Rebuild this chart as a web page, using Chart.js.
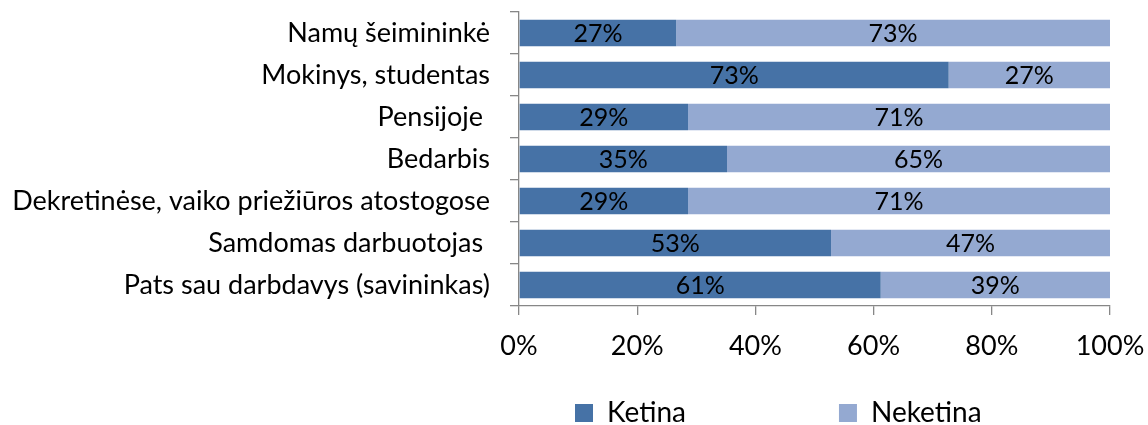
<!DOCTYPE html>
<html>
<head>
<meta charset="utf-8">
<script src="https://cdn.jsdelivr.net/npm/chart.js@4/dist/chart.umd.min.js"></script>
<style>
  html, body { margin: 0; padding: 0; background: #ffffff; }
  canvas { display: block; }
</style>
</head>
<body>
<canvas id="c" width="1148" height="425"></canvas>
<script>
const categories = [
  "Namų šeimininkė",
  "Mokinys, studentas",
  "Pensijoje ",
  "Bedarbis",
  "Dekretinėse, vaiko priežiūros atostogose",
  "Samdomas darbuotojas ",
  "Pats sau darbdavys (savininkas)"
];
const ketina   = [26.6, 72.7, 28.6, 35.2, 28.6, 52.8, 61.2];
const neketina = [73.4, 27.3, 71.4, 64.8, 71.4, 47.2, 38.8];
const seriesNames = ["Ketina", "Neketina"];
const xTicks = [0, 20, 40, 60, 80, 100];

const FONT = "Lato";
const AXIS_COLOR = "#878787";

const valueLabels = {
  id: "valueLabels",
  afterDatasetsDraw(chart) {
    const ctx = chart.ctx;
    ctx.save();
    ctx.font = "25px " + FONT;
    ctx.fillStyle = "#000000";
    ctx.textAlign = "center";
    ctx.textBaseline = "middle";
    chart.data.datasets.forEach((ds, di) => {
      const meta = chart.getDatasetMeta(di);
      meta.data.forEach((bar, i) => {
        const p = bar.getProps(["x", "y", "base"], true);
        ctx.fillText(Math.round(ds.data[i]) + "%", (p.x + p.base) / 2, p.y + 1);
      });
    });
    ctx.restore();
  }
};

const legendPlace = {
  id: "legendPlace",
  afterLayout(chart) {
    const lg = chart.legend;
    if (!lg) return;
    const p = lg.options.labels.padding;
    lg.left = 575 - p;
    lg.right = lg.left + 1000;
    lg.top = 399 - p;
  }
};

function zeroPad(scale) {
  scale.paddingTop = 0;
  scale.paddingBottom = 0;
  scale.paddingLeft = 0;
  scale.paddingRight = 0;
}

new Chart(document.getElementById("c"), {
  type: "bar",
  data: {
    labels: categories,
    datasets: [
      { label: seriesNames[0], data: ketina, backgroundColor: "#4672A6" },
      { label: seriesNames[1], data: neketina, backgroundColor: "#94A9D1" }
    ]
  },
  options: {
    indexAxis: "y",
    responsive: false,
    animation: false,
    layout: { padding: { top: 12, right: 38, bottom: 0, left: 0 } },
    datasets: { bar: { barPercentage: 0.63, categoryPercentage: 1.0 } },
    scales: {
      x: {
        stacked: true,
        min: 0,
        max: 100,
        afterBuildTicks(scale) { scale.ticks = xTicks.map(v => ({ value: v })); },
        afterFit(scale) { scale.height = 69; zeroPad(scale); },
        border: { display: true, color: AXIS_COLOR, width: 1.3 },
        grid: { drawOnChartArea: false, drawTicks: true, tickLength: 9, color: AXIS_COLOR, lineWidth: 1.3 },
        ticks: {
          color: "#000000",
          padding: 15,
          maxRotation: 0,
          font: { family: FONT, size: 27 },
          callback: v => v + "%"
        }
      },
      y: {
        stacked: true,
        afterFit(scale) { scale.width = 519; zeroPad(scale); },
        border: { display: true, color: AXIS_COLOR, width: 1.3 },
        grid: { drawOnChartArea: false, drawTicks: true, tickLength: 9, color: AXIS_COLOR, lineWidth: 1.3, offset: true },
        ticks: {
          color: "#000000",
          padding: 20,
          autoSkip: false,
          font: { family: FONT, size: 27 }
        }
      }
    },
    plugins: {
      tooltip: { enabled: false },
      legend: {
        display: true,
        position: "bottom",
        align: "start",
        maxHeight: 50,
        labels: {
          boxWidth: 18,
          boxHeight: 18,
          padding: 153,
          color: "#000000",
          font: { family: FONT, size: 28 }
        }
      }
    }
  },
  plugins: [valueLabels, legendPlace]
});
</script>
</body>
</html>
